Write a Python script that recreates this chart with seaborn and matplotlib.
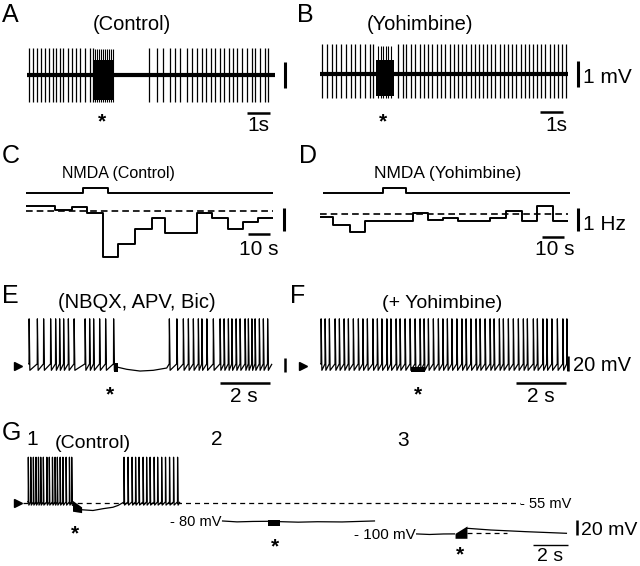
import numpy as np
import pandas as pd
import matplotlib
matplotlib.use("Agg")
import matplotlib.pyplot as plt
import seaborn as sns

# ---------------- data ----------------
# A / B : extracellular unit recording, spike times (s)
spikes_a = [0.10, 0.28, 0.45, 0.59, 0.78, 0.97, 1.14, 1.26, 1.43, 1.58, 1.77, 1.94, 2.13, 2.30, 2.52, 2.74, 2.88,
            5.32, 5.64, 5.93, 6.22, 6.43, 6.65, 6.94, 7.16, 7.38, 7.59, 7.78, 7.99, 8.17, 8.39, 8.57, 8.80, 8.97,
            9.14, 9.33, 9.55, 9.77, 9.91, 10.13, 10.35, 10.49]
burst_a = [2.93, 3.75]
burst_spikes_a = [2.97, 3.05, 3.13, 3.20, 3.30, 3.38, 3.47, 3.55, 3.65, 3.72]
spikes_b = [0.09, 0.32, 0.52, 0.71, 0.90, 1.14, 1.36, 1.54, 1.73, 1.94, 2.16, 2.30, 3.39, 3.61, 3.75, 3.97,
            4.14, 4.33, 4.52, 4.70, 4.88, 5.09, 5.25, 5.45, 5.64, 5.83, 6.00, 6.19, 6.36, 6.55, 6.73, 6.90,
            7.09, 7.27, 7.45, 7.62, 7.81, 8.00, 8.17, 8.35, 8.53, 8.73, 8.90, 9.07, 9.26, 9.45, 9.62, 9.80,
            9.99, 10.17, 10.35, 10.52, 10.71]
burst_b = [2.45, 3.22]
burst_spikes_b = [2.52, 2.64, 2.74, 2.86, 2.96, 3.07]
trace_len_ab = 10.78

# C / D : firing rate histograms (Hz), bin edges (s)
bins_c = [0, 13.4, 21.1, 28.3, 35.6, 42.5, 50.2, 57.9, 64.1, 78.7, 85.6, 93.3, 100.2, 107.1, 114.0]
rate_c = [2.22, 2.04, 2.17, 1.91, 0.0, 0.57, 1.22, 1.70, 1.04, 1.91, 1.70, 1.22, 1.52, 1.70]
bins_d = [0, 6.1, 13.8, 20.7, 42.7, 49.9, 56.8, 63.7, 78.3, 85.7, 92.9, 99.8, 107.2, 114.4]
rate_d = [1.88, 1.52, 1.23, 1.70, 2.03, 1.74, 1.84, 1.70, 1.84, 2.14, 1.70, 2.36, 1.70]
baseline_rate = 2.0
nmda_c = [26.3, 37.8]
nmda_d = [29.0, 39.6]

# E / F : intracellular recordings, spike times (s)
spikes_e1 = [0.04, 0.37, 0.62, 0.90, 1.10, 1.26, 1.42, 1.61, 1.84, 2.28, 2.46, 2.62, 2.86, 3.10, 3.42]
quiet_e_t = [3.55, 3.95, 4.48, 5.01, 5.55]
quiet_e_v = [-56.4, -59.6, -62.0, -61.0, -57.8]
spikes_e2 = [5.65, 5.95, 6.21, 6.41, 6.61, 6.81, 6.95, 7.15, 7.41, 7.68, 7.84, 8.01, 8.15, 8.32, 8.48,
             8.68, 8.81, 8.95, 9.08, 9.25, 9.41, 9.58]
end_e = 9.76
stim_e = [3.45, 3.60]
spikes_f = [0.04, 0.20, 0.37, 0.60, 0.77, 0.96, 1.13, 1.33, 1.53, 1.71, 1.89, 2.11, 2.29, 2.47, 2.67, 2.83,
            3.04, 3.20, 3.40, 3.60, 3.80, 4.00, 4.16, 4.33, 4.53, 4.73, 4.91, 5.09, 5.27, 5.47, 5.67, 5.84,
            6.03, 6.24, 6.40, 6.60, 6.80, 6.96, 7.17, 7.33, 7.53, 7.73, 7.93, 8.13, 8.29, 8.53, 8.69, 8.91,
            9.07, 9.27, 9.49, 9.71, 9.87]
end_f = 9.92
stim_f = [3.65, 4.20]

# G : same cell held at -55, -80 and -100 mV
spikes_g1a = [0.07, 0.21, 0.36, 0.51, 0.65, 0.78, 0.93, 1.13, 1.27, 1.45, 1.60, 1.73, 1.89, 2.05, 2.23, 2.42, 2.55]
stim_g1 = [2.60, 3.12]
quiet_g1_t = [3.14, 3.77, 4.34, 4.91, 5.20, 5.49]
quiet_g1_v = [-64.0, -65.0, -62.5, -60.5, -58.0, -54.0]
spikes_g1b = [5.54, 5.77, 6.00, 6.20, 6.40, 6.63, 6.83, 7.03, 7.26, 7.46, 7.69, 7.91, 8.14, 8.37, 8.60]
end_g1 = 8.74
g2_t = [11.14, 12.0, 12.9, 13.77, 14.46, 15.5, 16.6, 18.0, 19.89]
g2_v = [-79.5, -80.8, -80.2, -80.0, -80.5, -81.2, -80.6, -80.9, -79.5]
stim_g2 = [13.77, 14.46]
g3_pre_t = [22.23, 23.0, 23.8, 24.46]
g3_pre_v = [-97.5, -98.3, -97.6, -97.5]
g3_post_t = [25.14, 26.5, 28.5, 30.86]
g3_post_v = [-89.7, -92.1, -94.4, -96.7]
stim_g3 = [24.46, 25.14]
hold_levels = [-55, -80, -100]

# ---------------- figure setup ----------------
sns.set_theme(style="white")
plt.rcParams["font.family"] = ["Liberation Sans", "DejaVu Sans"]
plt.rcParams["lines.scale_dashes"] = False
plt.rcParams["lines.solid_capstyle"] = "butt"

W, H = 640, 566
fig = plt.figure(figsize=(W / 100, H / 100), dpi=100)
fig.patch.set_facecolor("white")
axes = []


def make_ax(box, x0px, sx, yref, yrefpx, sy):
    # box in pixels (left, top, right, bottom); data -> pixel mapping via x0px/sx and yref/yrefpx/sy
    left, top, right, bottom = box
    ax = fig.add_axes([left / W, 1 - bottom / H, (right - left) / W, (bottom - top) / H])
    lims = ((left - x0px) / sx, (right - x0px) / sx,
            yref - (bottom - yrefpx) / sy, yref + (yrefpx - top) / sy)
    ax.set_facecolor("none")
    axes.append((ax, lims))
    return ax


def ftext(x, y, s, size, ha="center", **kw):
    fig.text(x / W, 1 - y / H, s, fontsize=size, ha=ha, va="baseline", color="black", **kw)


def line(ax, x, y, lw=0.9, **kw):
    sns.lineplot(x=x, y=y, ax=ax, color="black", lw=lw, estimator=None, sort=False, **kw)


def sharp_trace(spikes, v_pre, v_peak, v_ahp, t0=None, t1=None):
    t, v = [], []
    if t0 is not None:
        t.append(t0); v.append(v_pre)
    for s in spikes:
        t += [s, s + 0.005, s + 0.035]
        v += [v_pre, v_peak, v_ahp]
    if t1 is not None:
        t.append(t1); v.append(v_pre)
    return t, v


# ---------------- A / B ----------------
for box, x0, spikes, burst, bsp, up, dn, yc in [
        ((0, 35, 310, 140), 27, spikes_a, burst_a, burst_spikes_a, 1.05, -1.05, 75.0),
        ((305, 35, 640, 140), 320, spikes_b, burst_b, burst_spikes_b, 1.15, -0.90, 74.3)]:
    ax = make_ax(box, x0, 23, 0, yc, 26)
    line(ax, [0, trace_len_ab], [0, 0], lw=3.0)
    ax.vlines(spikes, dn, up, color="black", lw=0.9)
    ax.vlines(bsp, dn, up * 0.95, color="black", lw=0.8)
    ax.fill_between(burst, [dn * 0.92] * 2, [0.56] * 2, color="black", lw=0)
    # scale bars: 1 mV, 1 s
    ax.plot([11.22, 11.22], [-0.5, 0.5], color="black", lw=2.2)
    ax.plot([trace_len_ab - 1.2, trace_len_ab - 0.2], [-1.45, -1.45], color="black", lw=1.8)

# ---------------- C / D ----------------
for box, x0, bins, rate, nmda, yc, nl, span, bar_top in [
        ((0, 180, 310, 265), 26, bins_c, rate_c, nmda_c, 211, 2.78, (0, 113.8), 2.13),
        ((305, 180, 640, 265), 320, bins_d, rate_d, nmda_d, 214, 2.91, (1.4, 115.2), 2.26)]:
    ax = make_ax(box, x0, 2.17, baseline_rate, yc, 23)
    ax.plot([bins[0], bins[-1]], [baseline_rate, baseline_rate], color="black", lw=1.2,
            linestyle=(0, (4.8, 2.9)))
    line(ax, bins, rate + [rate[-1]], lw=1.4, drawstyle="steps-post")
    line(ax, [span[0], nmda[0], nmda[0], nmda[1], nmda[1], span[1]],
         [nl, nl, nl + 0.22, nl + 0.22, nl, nl], lw=1.4)
    # scale bars: 1 Hz, 10 s
    ax.plot([118.8, 118.8], [bar_top, bar_top - 1.0], color="black", lw=2.2)
    ax.plot([102.5, 112.5], [baseline_rate - 0.98, baseline_rate - 0.98], color="black", lw=1.8)

# ---------------- E / F ----------------
ax_e = make_ax((0, 312, 310, 410), 28, 25, -55, 366, 0.72)
t1, v1 = sharp_trace(spikes_e1, -52, 10.5, -61, t0=0)
t2, v2 = sharp_trace(spikes_e2, -52, 10.5, -61, t1=end_e)
line(ax_e, t1 + quiet_e_t + t2, v1 + quiet_e_v + v2)
ax_e.fill_between(stim_e, [-63] * 2, [-51] * 2, color="black", lw=0)
ax_e.plot([-0.4], [-55], marker=">", ms=6, color="black", ls="none", clip_on=False)
ax_e.plot([10.26, 10.26], [-44, -64], color="black", lw=1.8)
ax_e.plot([7.68, 9.68], [-78.5, -78.5], color="black", lw=1.8)

ax_f = make_ax((290, 312, 640, 410), 320, 25, -55, 366, 0.72)
tf, vf = sharp_trace(spikes_f, -52, 10.5, -61, t0=0, t1=end_f)
line(ax_f, tf, vf)
ax_f.fill_between(stim_f, [-64] * 2, [-57] * 2, color="black", lw=0)
ax_f.plot([-0.68], [-55], marker=">", ms=6, color="black", ls="none", clip_on=False)
ax_f.plot([9.93, 9.93], [-41.5, -61.5], color="black", lw=1.8)
ax_f.plot([7.84, 9.84], [-78.5, -78.5], color="black", lw=1.8)

# ---------------- G ----------------
ax_g = make_ax((0, 450, 640, 566), 27, 17.5, -55, 503.3, 0.72)
ax_g.plot([-0.25, 28.17], [hold_levels[0]] * 2, color="black", lw=0.9, linestyle=(0, (3.6, 2.9)))
ta, va = sharp_trace(spikes_g1a, -53, 9, -57.5, t0=0)
tb, vb = sharp_trace(spikes_g1b, -53, 9, -57.5, t1=end_g1)
line(ax_g, ta + quiet_g1_t + tb, va + quiet_g1_v + vb)
ax_g.fill_between(stim_g1, [-66, -68], [-51, -60], color="black", lw=0)
line(ax_g, g2_t, g2_v)
ax_g.fill_between(stim_g2, [-87] * 2, [-78] * 2, color="black", lw=0)
line(ax_g, g3_pre_t, g3_pre_v)
line(ax_g, g3_post_t, g3_post_v)
ax_g.fill_between(stim_g3, [-103.6] * 2, [-96.7, -86.5], color="black", lw=0)
ax_g.plot([stim_g3[1], 27.43], [-96.5] * 2, color="black", lw=0.9, linestyle=(0, (3.6, 2.9)))
ax_g.plot([-0.51], [-55], marker=">", ms=6, color="black", ls="none", clip_on=False)
ax_g.plot([31.41, 31.41], [-78.6, -98.6], color="black", lw=1.8)
ax_g.plot([28.93, 30.93], [-112.9, -112.9], color="black", lw=1.0)

for ax, (x0, x1, y0, y1) in axes:
    ax.set_xlim(x0, x1)
    ax.set_ylim(y0, y1)
    ax.set_axis_off()
    if ax.get_legend() is not None:
        ax.get_legend().remove()

# ---------------- text ----------------
for s, x, y in [("A", 2, 22), ("B", 297, 22), ("C", 2, 163), ("D", 299, 163),
                ("E", 2, 303), ("F", 290, 303), ("G", 2, 440)]:
    ftext(x, y, s, 18, ha="left")
ftext(26, 445, "1", 15, ha="left")

ftext(132, 30, "(Control)", 14.5)
ftext(420, 30, "(Yohimbine)", 14.5)
ftext(118, 178, "NMDA (Control)", 11.5)
ftext(447.5, 178, "NMDA (Yohimbine)", 12.5)
ftext(136.7, 308, "(NBQX, APV, Bic)", 14.5)
ftext(442.5, 308, "(+ Yohimbine)", 14)
ftext(93.3, 448, "(Control)", 14)
ftext(217, 445, "2", 15)
ftext(403, 446, "3", 15)

ftext(258.5, 131, "1s", 15)
ftext(556, 131, "1s", 15)
ftext(583, 83, "1 mV", 15, ha="left")
ftext(259, 255, "10 s", 15)
ftext(555, 255, "10 s", 15)
ftext(583, 230, "1 Hz", 15, ha="left")
ftext(244, 402, "2 s", 15)
ftext(541, 402, "2 s", 15)
ftext(573, 371, "20 mV", 14.5, ha="left")
ftext(581, 535, "20 mV", 14, ha="left")
ftext(550, 561, "2 s", 14)

ftext(520, 508, "- 55 mV", 10.5, ha="left")
ftext(221.5, 526, "- 80 mV", 10.5, ha="right")
ftext(416, 539, "- 100 mV", 11, ha="right")

for x, y in [(101.7, 115), (383.3, 115), (110, 388), (418.3, 388), (75, 527), (275, 540), (460, 548)]:
    ftext(x, y + 12, "*", 15, fontweight="bold")

fig.savefig("out.png", dpi=100, facecolor="white")
